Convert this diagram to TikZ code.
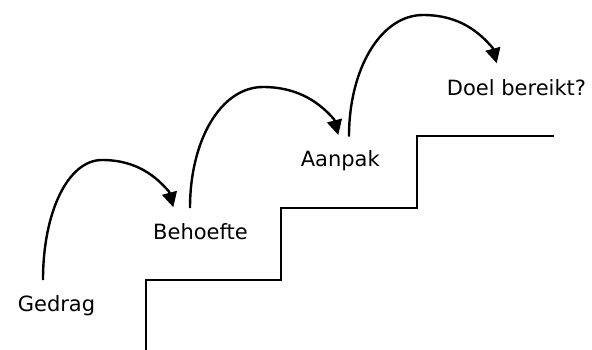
\documentclass[tikz,border=0pt]{standalone}
\usepackage{fontspec}
\setmainfont{DejaVu Sans}
\usetikzlibrary{arrows.meta,calc}
\begin{document}
\begin{tikzpicture}[x=1pt,y=-1pt,
  lbl/.style={inner sep=0pt,anchor=base,font=\fontsize{21}{25}\selectfont},
  jump/.style={line width=2.4pt,-{Triangle[length=15pt,width=15pt]}},
  stairs/.style={line width=2pt}]
\useasboundingbox (0,0) rectangle (592,349);
\node[lbl] (gedrag) at (56.5,311.7) {Gedrag};
\node[lbl] (behoefte) at (200.5,239.3) {Behoefte};
\node[lbl] (aanpak) at (340.3,166.7) {Aanpak};
\node[lbl] (doel) at (516.5,95) {Doel bereikt?};
% arrow 1
\coordinate (s1) at (43,280);
\coordinate (p1) at (102,160);
\coordinate (b1) at (169.2,191.8);
\coordinate (t1) at (173.3,207.3);
% arrow 2
\coordinate (s2) at (190,208);
\coordinate (p2) at (263,87);
\coordinate (b2) at (334.2,119.5);
\coordinate (t2) at (338.3,135);
% arrow 3
\coordinate (s3) at (349,136.5);
\coordinate (p3) at (423,15);
\coordinate (b3) at (492.6,47.8);
\coordinate (t3) at (496.7,63.3);
\draw[jump] (s1) .. controls ($(s1)+(0,-68)$) and ($(p1)+(-34,0)$) .. (p1)
  .. controls ($(p1)+(35,0)$) and ($(b1)+(-13,-15)$) .. (b1) -- (t1);
\draw[jump] (s2) .. controls ($(s2)+(0,-68)$) and ($(p2)+(-42,0)$) .. (p2)
  .. controls ($(p2)+(37,0)$) and ($(b2)+(-13,-15)$) .. (b2) -- (t2);
\draw[jump] (s3) .. controls ($(s3)+(0,-68)$) and ($(p3)+(-42,0)$) .. (p3)
  .. controls ($(p3)+(37,0)$) and ($(b3)+(-13,-15)$) .. (b3) -- (t3);
\draw[stairs] (146,350) -- (146,280) -- (281,280) -- (281,208) -- (417,208) -- (417,136) -- (554,136);
\end{tikzpicture}
\end{document}
